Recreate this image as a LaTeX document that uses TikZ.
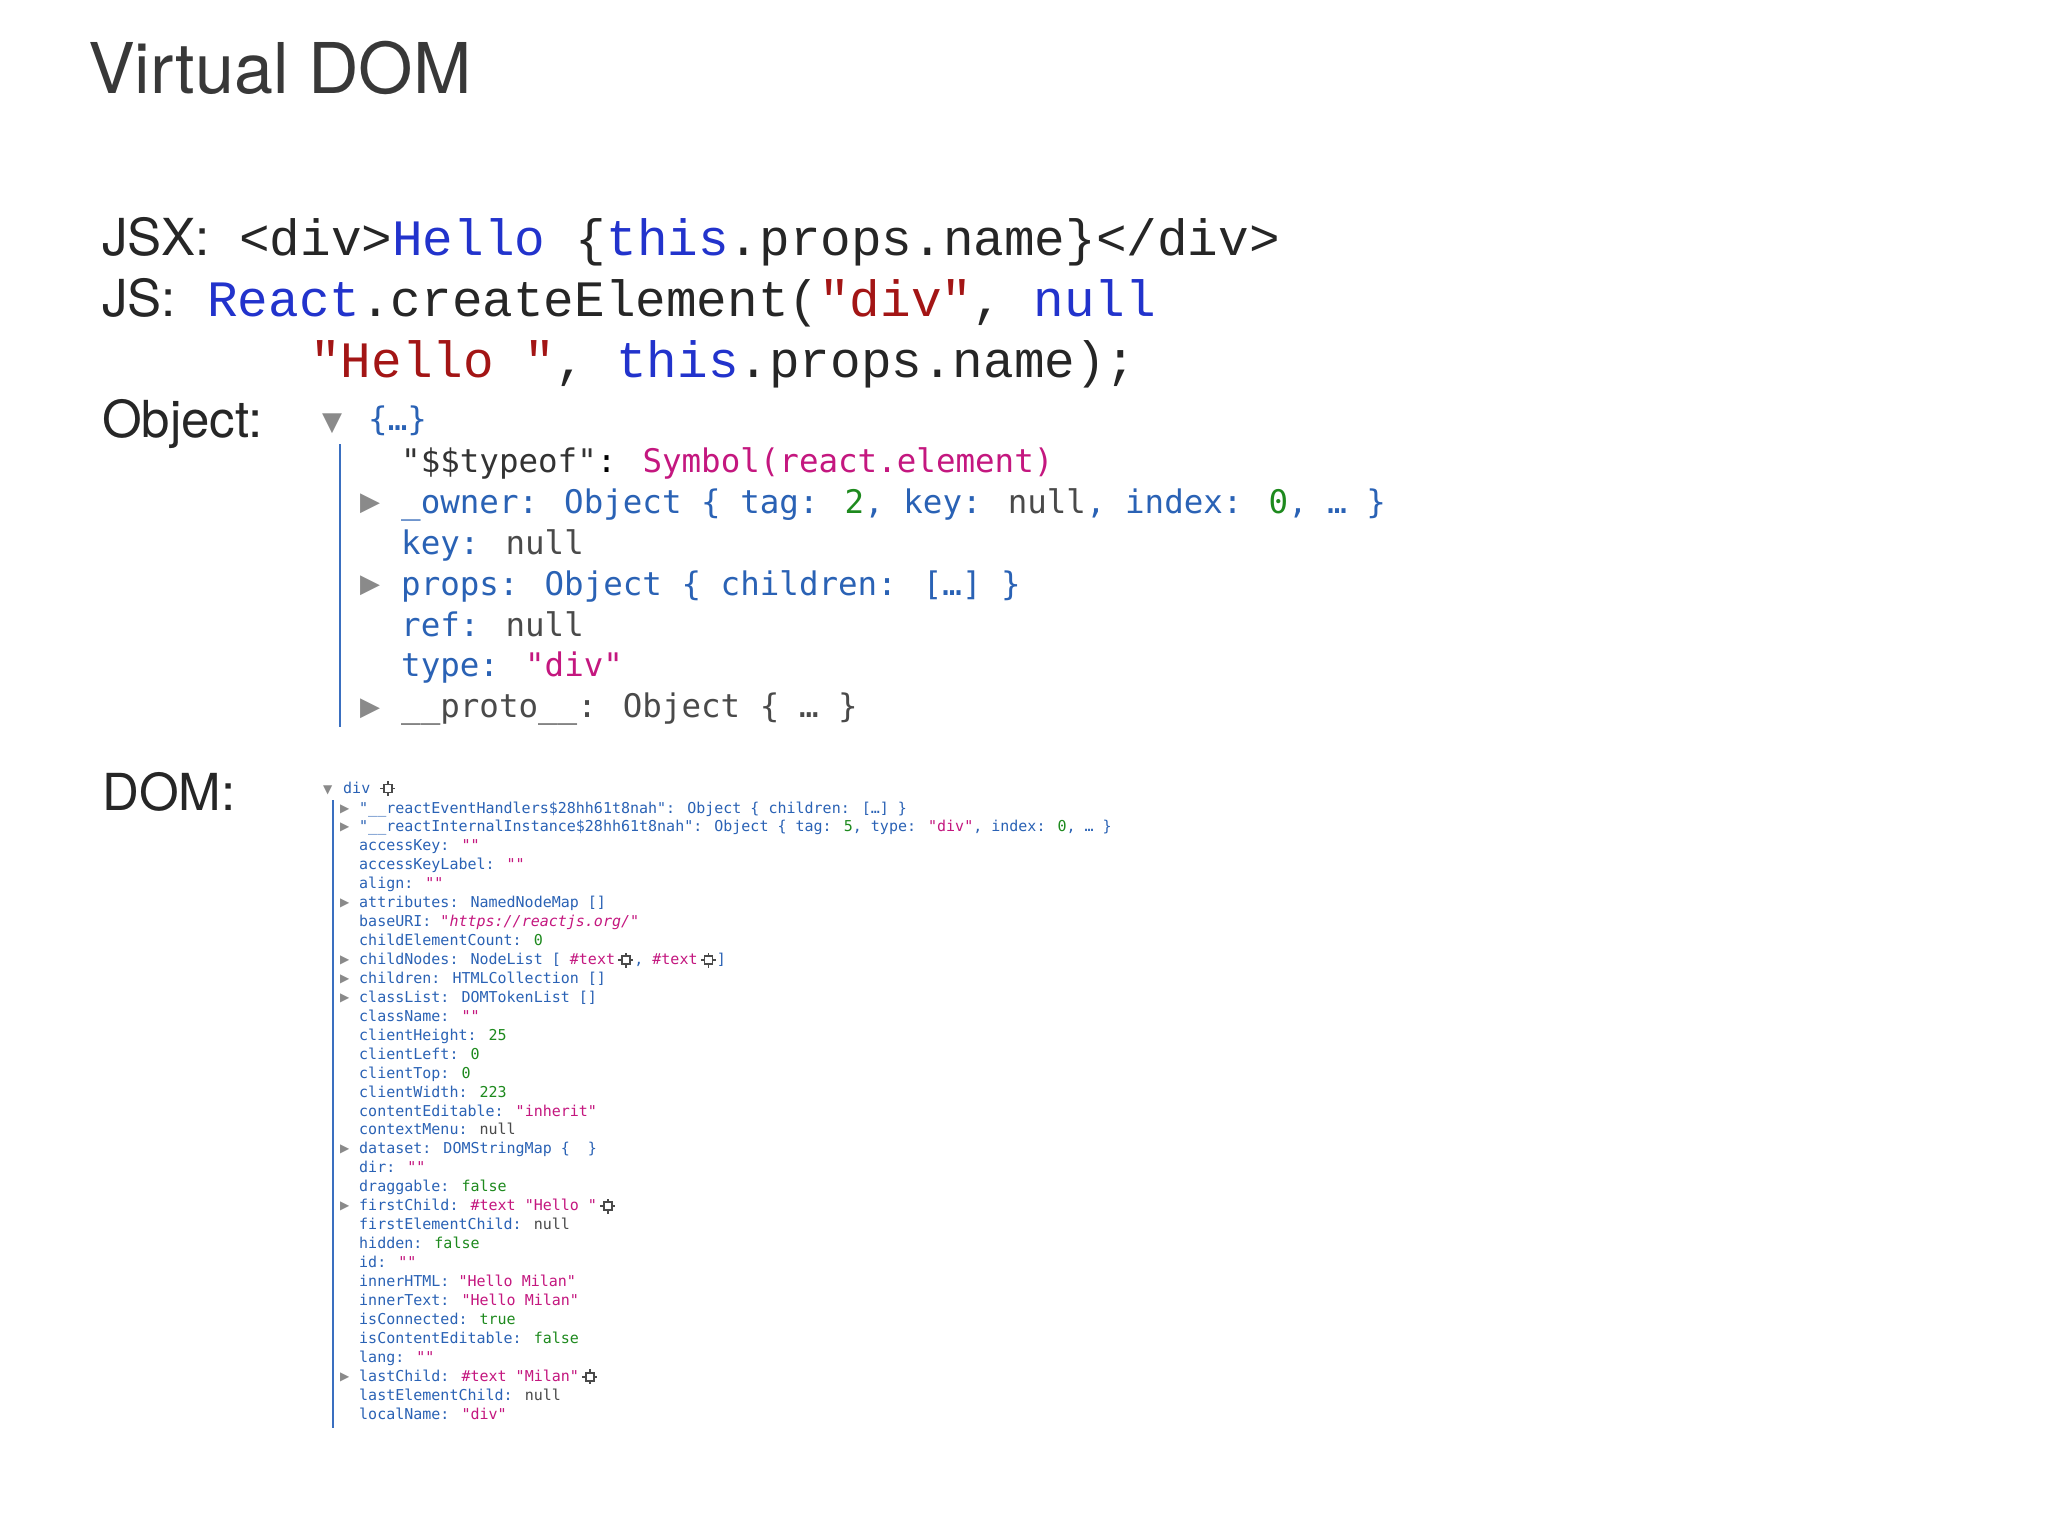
\documentclass[tikz,border=0pt]{standalone}
\usepackage{fontspec}
\setmainfont{TeX Gyre Heros}
\newfontfamily\jsxmono{Liberation Mono}
\newfontfamily\devmono{DejaVu Sans Mono}
\newfontfamily\symfont{DejaVu Sans}
\definecolor{kblue}{HTML}{2A62B5}
\definecolor{smag}{HTML}{C4177F}
\definecolor{ngreen}{HTML}{1E8A1E}
\definecolor{ngray}{HTML}{4A4A4A}
\definecolor{jblue}{HTML}{2233CC}
\definecolor{jred}{HTML}{A31515}
\definecolor{vline}{HTML}{3A6FC0}
\definecolor{tri}{HTML}{8A8A8A}
\newcommand\K[1]{\textcolor{kblue}{#1}}
\newcommand\St[1]{\textcolor{smag}{#1}}
\newcommand\Nm[1]{\textcolor{ngreen}{#1}}
\newcommand\Gy[1]{\textcolor{ngray}{#1}}
\newcommand\gearicon{\tikz[baseline=-4.5pt,x=1pt,y=1pt]{\draw[ngray,line width=1.8pt] (-4,-4) rectangle (4,4); \draw[ngray,line width=1.8pt] (0,4)--(0,7.5) (0,-4)--(0,-7.5) (4,0)--(7.5,0) (-4,0)--(-7.5,0);}}
\tikzset{
  label/.style={anchor=base west, inner sep=0pt, text=black!85, font=\fontsize{51}{51}\selectfont},
  jsx/.style={anchor=base west, inner sep=0pt, text=black!85, font=\fontsize{51}{51}\selectfont\jsxmono},
  obj/.style={anchor=base west, inner sep=0pt, font=\fontsize{32.5}{32.5}\selectfont\devmono},
  dom/.style={anchor=base west, inner sep=0pt, font=\fontsize{15}{15}\selectfont\devmono},
  trio/.style={anchor=base west, inner sep=0pt, text=tri, font=\fontsize{26}{26}\selectfont\symfont},
  trid/.style={anchor=base west, inner sep=0pt, text=tri, font=\fontsize{12}{12}\selectfont\symfont},
}
\begin{document}
\begin{tikzpicture}[x=1pt,y=-1pt]
\useasboundingbox[fill=white] (0,0) rectangle (2048,1536);
\node[anchor=base west, inner sep=0pt, text=black!78, font=\fontsize{70}{70}\selectfont] (title) at (88,94) {Virtual DOM};
% JSX / JS
\node[label] (ljsx) at (102,255) {JSX:};
\node[jsx] (cjsx) at (239,255) {<div>\textcolor{jblue}{Hello} \{\textcolor{jblue}{this}.props.name\}</div>};
\node[label] (ljs) at (102,316) {JS:};
\node[jsx] (cjs) at (207,316) {\textcolor{jblue}{React}.createElement(\textcolor{jred}{"div"}, \textcolor{jblue}{null}};
\node[jsx] (cjs2) at (310,377) {\textcolor{jred}{"Hello~"}, \textcolor{jblue}{this}.props.name);};
% Object
\node[label] (lobj) at (102,437) {Object:};
\node[trio] (otop) at (322,430) {▼};
\node[obj] (obrace) at (368,430) {\K{\{…\}}};
\draw[vline, line width=2.5pt] (340,444) -- (340,727);
\node[obj] (o1) at (401,472) {\textcolor{black!80}{"\$\$typeof"}: \St{Symbol(react.element)}};
\node[obj] (o2) at (401,513) {\K{\_owner: Object \{ tag: }\Nm{2}\K{, key: }\Gy{null}\K{, index: }\Nm{0}\K{, … \}}};
\node[obj] (o3) at (401,554) {\K{key: }\Gy{null}};
\node[obj] (o4) at (401,595) {\K{props: Object \{ children: […] \}}};
\node[obj] (o5) at (401,636) {\K{ref: }\Gy{null}};
\node[obj] (o6) at (401,676) {\K{type: }\St{"div"}};
\node[obj] (o7) at (401,717) {\Gy{\_\_proto\_\_: Object \{ … \}}};
\foreach \r in {2,4,7} \node[trio] (oa\r) at (360,{472+(\r-1)*40.9-2}) {▶};
% DOM
\node[label] (ldom) at (102,810) {DOM:};
\node[trid] (dtop) at (323,793) {▼};
\node[dom] (ddiv) at (343,793) {\K{div} \gearicon};
\draw[vline, line width=2pt] (333,800) -- (333,1428);
\foreach \t [count=\i] in {
 {\K{"\_\_reactEventHandlers\$28hh61t8nah": Object \{ children: […] \}}},
 {\K{"\_\_reactInternalInstance\$28hh61t8nah": Object \{ tag: }\Nm{5}\K{, type: }\St{"div"}\K{, index: }\Nm{0}\K{, … \}}},
 {\K{accessKey: }\St{""}},
 {\K{accessKeyLabel: }\St{""}},
 {\K{align: }\St{""}},
 {\K{attributes: NamedNodeMap []}},
 {\K{baseURI: }\St{"\textit{https://reactjs.org/}"}},
 {\K{childElementCount: }\Nm{0}},
 {\K{childNodes: NodeList [ }\St{\#text}\,\gearicon\K{, }\St{\#text}\,\gearicon\K{ ]}},
 {\K{children: HTMLCollection []}},
 {\K{classList: DOMTokenList []}},
 {\K{className: }\St{""}},
 {\K{clientHeight: }\Nm{25}},
 {\K{clientLeft: }\Nm{0}},
 {\K{clientTop: }\Nm{0}},
 {\K{clientWidth: }\Nm{223}},
 {\K{contentEditable: }\St{"inherit"}},
 {\K{contextMenu: }\Gy{null}},
 {\K{dataset: DOMStringMap \{~~\}}},
 {\K{dir: }\St{""}},
 {\K{draggable: }\Nm{false}},
 {\K{firstChild: }\St{\#text "Hello~"}\,\gearicon},
 {\K{firstElementChild: }\Gy{null}},
 {\K{hidden: }\Nm{false}},
 {\K{id: }\St{""}},
 {\K{innerHTML: }\St{"Hello Milan"}},
 {\K{innerText: }\St{"Hello Milan"}},
 {\K{isConnected: }\Nm{true}},
 {\K{isContentEditable: }\Nm{false}},
 {\K{lang: }\St{""}},
 {\K{lastChild: }\St{\#text "Milan"}\,\gearicon},
 {\K{lastElementChild: }\Gy{null}},
 {\K{localName: }\St{"div"}}
}{
 \node[dom] (dom\i) at (359,{813+(\i-1)*18.94}) {\t};
}
\foreach \r in {1,2,6,9,10,11,19,22,31}
 \node[trid] (da\r) at (340,{813+(\r-1)*18.94-1}) {▶};
\end{tikzpicture}
\end{document}
